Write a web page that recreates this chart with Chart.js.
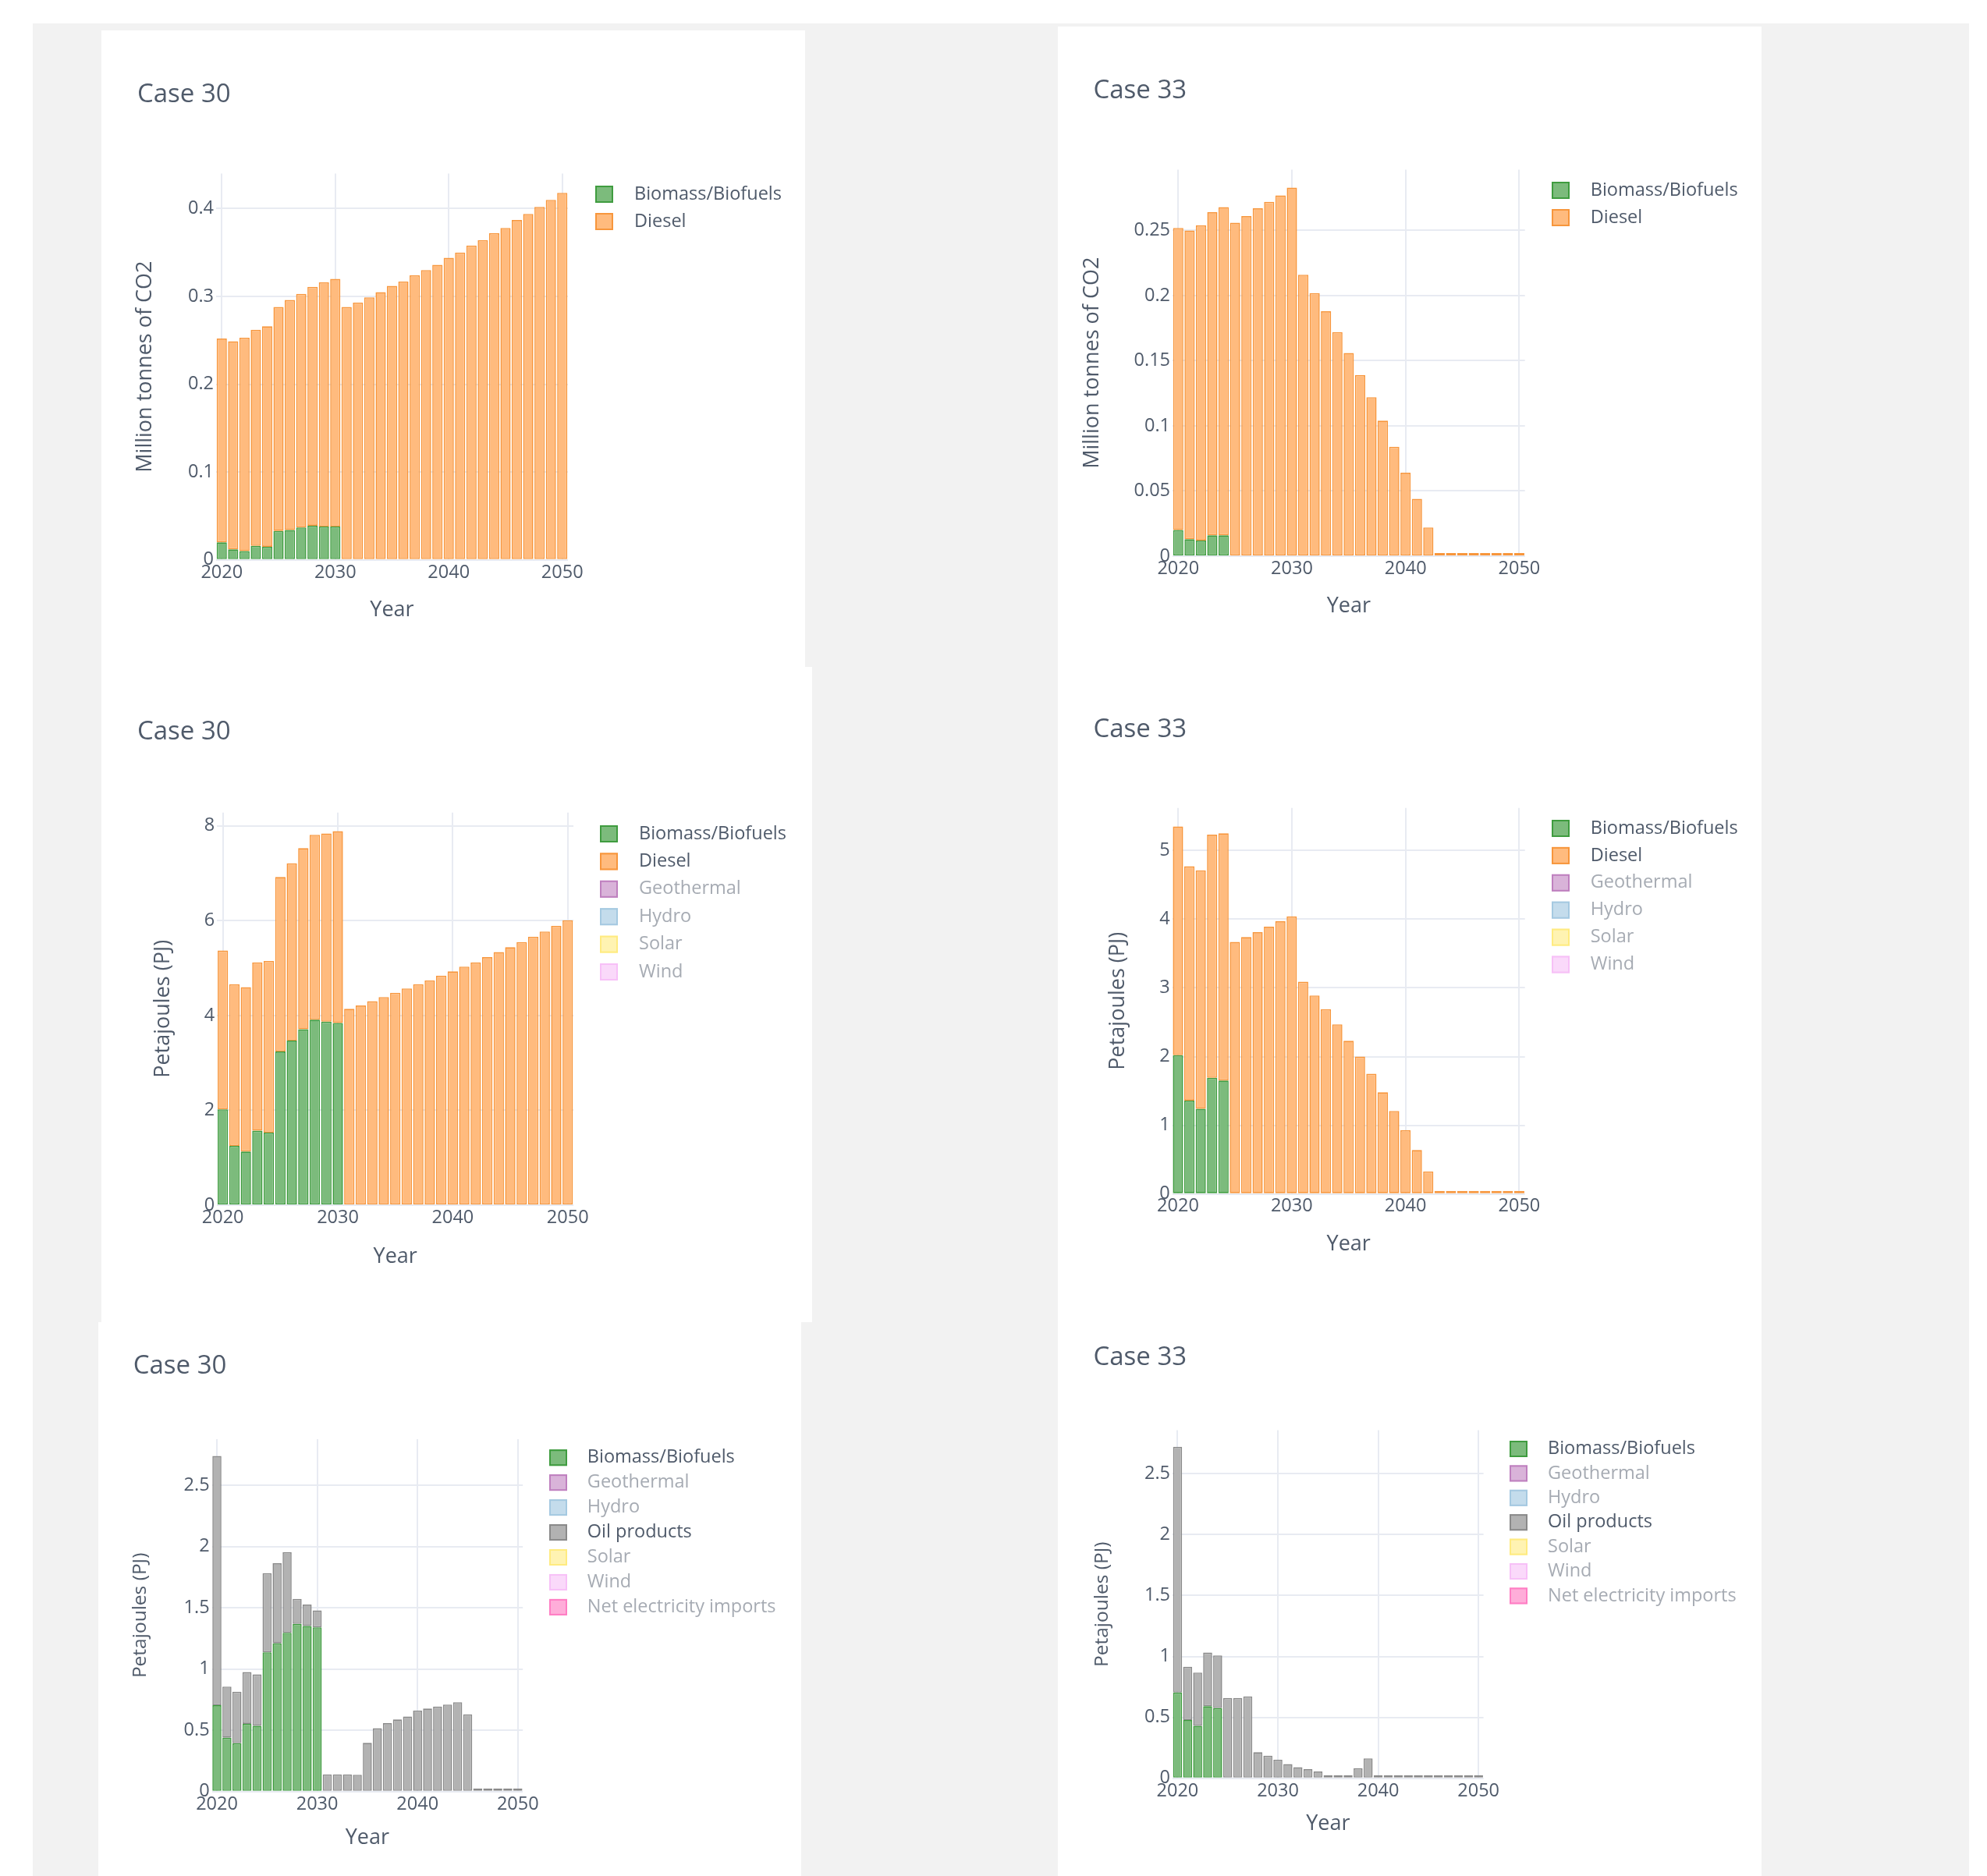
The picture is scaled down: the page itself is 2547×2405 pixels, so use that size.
<!DOCTYPE html>
<html><head><meta charset="utf-8">
<script src="https://cdn.jsdelivr.net/npm/chart.js@4.4.1/dist/chart.umd.min.js"></script>
<style>
html,body{margin:0;padding:0;background:#fff;}
body{width:2547px;height:2405px;position:relative;overflow:hidden;}
#bg{position:absolute;left:42px;top:30px;width:2482px;height:2375px;background:#f2f2f2;}
.card{position:absolute;background:#fff;}
canvas{position:absolute;}
</style></head><body>
<div id="bg"></div>
<div class="card" style="left:130px;top:39px;width:902px;height:816px"></div>
<div class="card" style="left:130px;top:855px;width:911px;height:840px"></div>
<div class="card" style="left:126px;top:1695px;width:901px;height:710px"></div>
<div class="card" style="left:1356px;top:34px;width:902px;height:2371px"></div>
<canvas id="c1" width="902" height="816" style="left:130px;top:39px"></canvas>
<canvas id="c2" width="902" height="821" style="left:1356px;top:34px"></canvas>
<canvas id="c3" width="911" height="840" style="left:130px;top:855px"></canvas>
<canvas id="c4" width="902" height="840" style="left:1356px;top:855px"></canvas>
<canvas id="c5" width="901" height="710" style="left:126px;top:1695px"></canvas>
<canvas id="c6" width="902" height="710" style="left:1356px;top:1695px"></canvas>
<script>
// ---------- data ----------
const years = [2020,2021,2022,2023,2024,2025,2026,2027,2028,2029,2030,2031,2032,2033,2034,2035,2036,2037,2038,2039,2040,2041,2042,2043,2044,2045,2046,2047,2048,2049,2050];

// Case 30 - emissions (Million tonnes of CO2)
const co2Biomass30 = [0.020,0.012,0.010,0.016,0.015,0.033,0.034,0.037,0.039,0.038,0.038,0,0,0,0,0,0,0,0,0,0,0,0,0,0,0,0,0,0,0,0];
const co2Diesel30  = [0.232,0.237,0.243,0.246,0.251,0.255,0.262,0.266,0.272,0.278,0.282,0.288,0.293,0.299,0.305,0.312,0.317,0.324,0.330,0.336,0.344,0.350,0.358,0.364,0.372,0.378,0.387,0.394,0.402,0.410,0.418];

// Case 33 - emissions (Million tonnes of CO2)
const co2Biomass33 = [0.020,0.013,0.012,0.016,0.016,0,0,0,0,0,0,0,0,0,0,0,0,0,0,0,0,0,0,0,0,0,0,0,0,0,0];
const co2Diesel33  = [0.232,0.237,0.242,0.248,0.252,0.256,0.261,0.267,0.272,0.277,0.283,0.216,0.202,0.188,0.172,0.156,0.139,0.122,0.104,0.084,0.064,0.044,0.022,0,0,0,0,0,0,0,0];

// Case 30 - energy (PJ)
const pjBiomass30 = [2.02,1.25,1.13,1.57,1.53,3.24,3.47,3.71,3.91,3.87,3.84,0,0,0,0,0,0,0,0,0,0,0,0,0,0,0,0,0,0,0,0];
const pjDiesel30  = [3.35,3.41,3.47,3.55,3.62,3.68,3.74,3.82,3.90,3.97,4.05,4.14,4.21,4.30,4.39,4.48,4.57,4.66,4.74,4.84,4.93,5.03,5.12,5.23,5.34,5.44,5.55,5.66,5.77,5.89,6.01];

// Case 33 - energy (PJ)
const pjBiomass33 = [2.02,1.36,1.24,1.69,1.65,0,0,0,0,0,0,0,0,0,0,0,0,0,0,0,0,0,0,0,0,0,0,0,0,0,0];
const pjDiesel33  = [3.33,3.41,3.47,3.54,3.60,3.67,3.74,3.81,3.89,3.97,4.04,3.09,2.89,2.69,2.47,2.23,2.00,1.75,1.48,1.21,0.93,0.64,0.33,0,0,0,0,0,0,0,0];

// Case 30 - supply (PJ)
const supBiomass30 = [0.705,0.440,0.395,0.553,0.537,1.137,1.211,1.297,1.369,1.352,1.341,0,0,0,0,0,0,0,0,0,0,0,0,0,0,0,0,0,0,0,0];
const supOil30     = [2.036,0.417,0.421,0.423,0.420,0.647,0.653,0.658,0.205,0.175,0.139,0.141,0.141,0.141,0.138,0.398,0.517,0.559,0.589,0.614,0.661,0.678,0.694,0.711,0.730,0.631,0,0,0,0,0];

// Case 33 - supply (PJ)
const supBiomass33 = [0.704,0.478,0.431,0.592,0.576,0,0,0,0,0,0,0,0,0,0,0,0,0,0,0,0,0,0,0,0,0,0,0,0,0,0];
const supOil33     = [2.016,0.437,0.437,0.440,0.433,0.659,0.659,0.673,0.214,0.186,0.153,0.117,0.092,0.075,0.056,0,0,0,0.083,0.164,0,0,0,0,0,0,0,0,0,0,0];

// ---------- styles ----------
const FONT = '"Open Sans", sans-serif';
const TXT = '#4f5a6a';
const MUTED = '#a6abb3';
const GRID = '#e8ebf2';
const C = {
  bio:   {bg:'#7cbb7c', bd:'#3f9c3f'},
  diesel:{bg:'#ffbb7e', bd:'#f7963c'},
  oil:   {bg:'#b2b2b2', bd:'#8a8a8a'},
  geo:   {bg:'#d9b3d9', bd:'#bf80bf'},
  hydro: {bg:'#c4dcec', bd:'#a5c9e1'},
  solar: {bg:'#fff3b2', bd:'#ffeb80'},
  wind:  {bg:'#fad9fa', bd:'#f7c0f7'},
  imp:   {bg:'#ffadd9', bd:'#ff7ec4'}
};
// top: the top-most visible stack, which shows zero values as a thin line (like the reference)
function ds(label, data, c, opt) {
  opt = opt || {};
  return {label, data, backgroundColor:c.bg, borderColor:c.bd, hidden: !!opt.hidden,
          minBarLength: opt.top ? 4 : 0};
}
const HID = {hidden:true}, TOP = {top:true};

const panelTitle = {
  id:'panelTitle',
  afterDraw(chart, a, o) {
    const ctx = chart.ctx; ctx.save();
    ctx.font = o.size + 'px ' + FONT; ctx.fillStyle = TXT;
    ctx.textAlign = 'left'; ctx.textBaseline = 'alphabetic';
    ctx.fillText(o.text, o.x, o.y); ctx.restore();
  }
};
const plotlyLegend = {
  id:'plotlyLegend',
  afterDraw(chart, a, o) {
    const ctx = chart.ctx; ctx.save();
    ctx.font = o.size + 'px ' + FONT; ctx.textAlign = 'left'; ctx.textBaseline = 'middle';
    chart.data.datasets.forEach((d, i) => {
      const cy = o.y + i * o.spacing;
      ctx.fillStyle = d.backgroundColor;
      ctx.fillRect(o.x, cy - o.boxH / 2, o.boxW, o.boxH);
      ctx.strokeStyle = d.borderColor; ctx.lineWidth = 2;
      ctx.strokeRect(o.x + 1, cy - o.boxH / 2 + 1, o.boxW - 2, o.boxH - 2);
      ctx.fillStyle = d.hidden ? MUTED : TXT;
      ctx.fillText(d.label, o.textX, cy);
    });
    ctx.restore();
  }
};

function build(id, p) {
  const W = p.w, H = p.h;
  new Chart(document.getElementById(id), {
    type:'bar',
    data:{labels: years, datasets: p.datasets},
    options:{
      responsive:false, animation:false, devicePixelRatio:1,
      layout:{padding:{left:0, top:p.area.t, right:W - p.area.r, bottom:0}},
      datasets:{bar:{barPercentage:0.9, categoryPercentage:1, borderWidth:1.6, borderSkipped:false}},
      scales:{
        x:{
          stacked:true, offset:true,
          grid:{offset:false, drawTicks:false, lineWidth:2,
                color: c => (years[c.index] % 10 === 0 ? GRID : 'rgba(0,0,0,0)')},
          border:{display:false},
          ticks:{autoSkip:false, maxRotation:0, minRotation:0, padding:2, color:TXT,
                 font:{family:FONT, size:23.5},
                 callback:(v, i) => (years[i] % 10 === 0 ? String(years[i]) : '')},
          title:{display:true, text:'Year', color:TXT, font:{family:FONT, size:27},
                 padding:{top:0, bottom:H - p.yearY - 16.2}},
          afterFit: s => { s.height = H - p.area.b; }
        },
        y:{
          stacked:true, min:0, max:p.ymax,
          grid:{drawTicks:false, lineWidth:2, color:GRID},
          border:{display:false},
          ticks:{stepSize:p.step, includeBounds:false, padding:3, color:TXT,
                 font:{family:FONT, size:23.5},
                 callback: v => String(+Number(v).toFixed(4))},
          title:{display:true, text:p.ytitle, color:TXT, font:{family:FONT, size:p.ytSize},
                 padding:{top:p.ytX - p.ytSize * 0.6, bottom:0}},
          afterFit: s => { s.width = p.area.l; }
        }
      },
      plugins:{
        legend:{display:false}, tooltip:{enabled:false},
        panelTitle:{text:p.title, x:p.tx, y:p.ty, size:33},
        plotlyLegend:Object.assign({size:23.5, boxW:23, boxH:22}, p.legend)
      }
    },
    plugins:[panelTitle, plotlyLegend]
  });
}

build('c1', {w:902, h:816, area:{l:147, r:598, t:183.4, b:678.8}, ymax:0.44, step:0.1,
  ytitle:'Million tonnes of CO2', ytX:56, ytSize:27, yearY:743, title:'Case 30', tx:46, ty:92,
  legend:{x:633, y:210, spacing:35, textX:683},
  datasets:[ds('Biomass/Biofuels', co2Biomass30, C.bio), ds('Diesel', co2Diesel30, C.diesel, TOP)]});

build('c2', {w:902, h:821, area:{l:147, r:598.7, t:183.5, b:679}, ymax:0.2967, step:0.05,
  ytitle:'Million tonnes of CO2', ytX:44, ytSize:27, yearY:743, title:'Case 33', tx:45.5, ty:92.4,
  legend:{x:633, y:210, spacing:35, textX:682.7},
  datasets:[ds('Biomass/Biofuels', co2Biomass33, C.bio), ds('Diesel', co2Diesel33, C.diesel, TOP)]});

build('c3', {w:911, h:840, area:{l:148.3, r:605.1, t:186.7, b:690}, ymax:8.28, step:2,
  ytitle:'Petajoules (PJ)', ytX:79, ytSize:27, yearY:756, title:'Case 30', tx:46, ty:93,
  legend:{x:639, y:214, spacing:35.4, textX:689},
  datasets:[ds('Biomass/Biofuels', pjBiomass30, C.bio), ds('Diesel', pjDiesel30, C.diesel, TOP),
            ds('Geothermal', [], C.geo, HID), ds('Hydro', [], C.hydro, HID),
            ds('Solar', [], C.solar, HID), ds('Wind', [], C.wind, HID)]});

build('c4', {w:902, h:840, area:{l:146.7, r:598.7, t:180.7, b:675.7}, ymax:5.62, step:1,
  ytitle:'Petajoules (PJ)', ytX:77, ytSize:27, yearY:740, title:'Case 33', tx:45.5, ty:89.7,
  legend:{x:633, y:207, spacing:34.9, textX:682.7},
  datasets:[ds('Biomass/Biofuels', pjBiomass33, C.bio), ds('Diesel', pjDiesel33, C.diesel, TOP),
            ds('Geothermal', [], C.geo, HID), ds('Hydro', [], C.hydro, HID),
            ds('Solar', [], C.solar, HID), ds('Wind', [], C.wind, HID)]});

build('c5', {w:901, h:710, area:{l:145.6, r:544.2, t:149.9, b:601.8}, ymax:2.878, step:0.5,
  ytitle:'Petajoules (PJ)', ytX:54, ytSize:24.5, yearY:661.6, title:'Case 30', tx:44.7, ty:66.2,
  legend:{x:578, y:173.7, spacing:31.95, textX:626.8, boxH:21},
  datasets:[ds('Biomass/Biofuels', supBiomass30, C.bio), ds('Geothermal', [], C.geo, HID),
            ds('Hydro', [], C.hydro, HID), ds('Oil products', supOil30, C.oil, TOP),
            ds('Solar', [], C.solar, HID), ds('Wind', [], C.wind, HID),
            ds('Net electricity imports', [], C.imp, HID)]});

build('c6', {w:902, h:710, area:{l:147, r:545.6, t:138.6, b:584.8}, ymax:2.856, step:0.5,
  ytitle:'Petajoules (PJ)', ytX:57, ytSize:24.5, yearY:643, title:'Case 33', tx:45.5, ty:55.4,
  legend:{x:579, y:162.5, spacing:31.4, textX:628, boxH:21},
  datasets:[ds('Biomass/Biofuels', supBiomass33, C.bio), ds('Geothermal', [], C.geo, HID),
            ds('Hydro', [], C.hydro, HID), ds('Oil products', supOil33, C.oil, TOP),
            ds('Solar', [], C.solar, HID), ds('Wind', [], C.wind, HID),
            ds('Net electricity imports', [], C.imp, HID)]});
</script>
</body></html>
